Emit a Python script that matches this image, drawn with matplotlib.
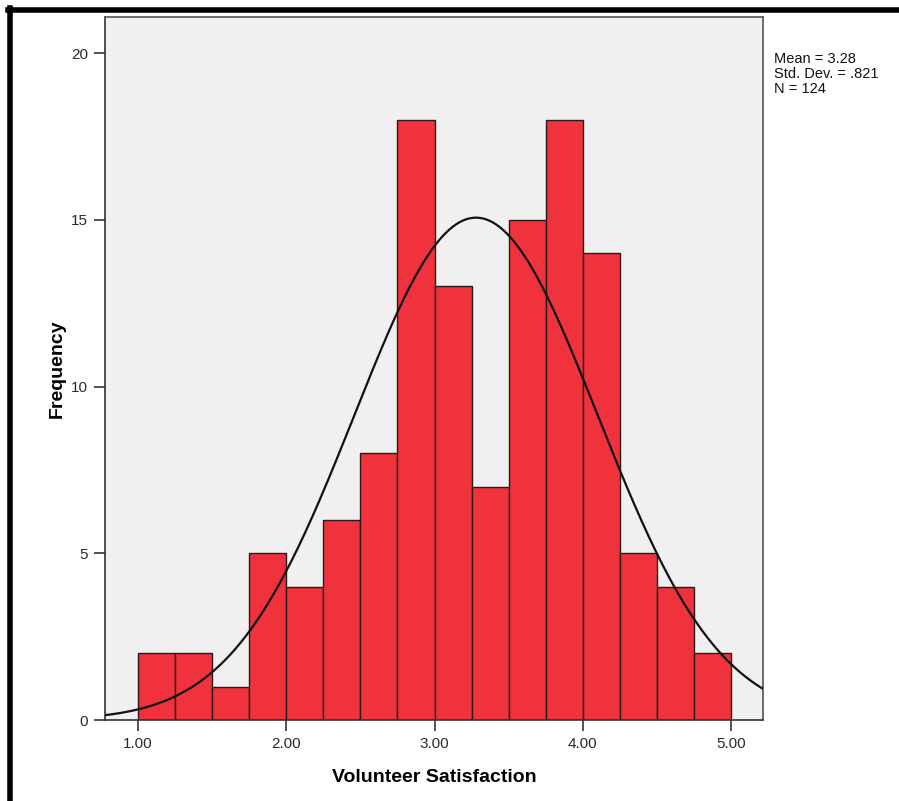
import numpy as np
import matplotlib
matplotlib.use("Agg")
import matplotlib.pyplot as plt
from matplotlib.lines import Line2D

# Data
bin_edges = [1.00, 1.25, 1.50, 1.75, 2.00, 2.25, 2.50, 2.75, 3.00,
             3.25, 3.50, 3.75, 4.00, 4.25, 4.50, 4.75, 5.00]
counts = [2, 2, 1, 5, 4, 6, 8, 18, 13, 7, 15, 18, 14, 5, 4, 2]
mean = 3.28
std = 0.821
n = 124
xticks = [1.0, 2.0, 3.0, 4.0, 5.0]
xtick_labels = ["1.00", "2.00", "3.00", "4.00", "5.00"]
yticks = [0, 5, 10, 15, 20]
stats_text = "Mean = 3.28\nStd. Dev. = .821\nN = 124"

plt.rcParams['font.family'] = ['Liberation Sans', 'DejaVu Sans']

fig = plt.figure(figsize=(8.99, 8.01), dpi=100)
ax = fig.add_axes([105/899, 1 - 720/801, (763 - 105)/899, (720 - 17)/801])
ax.set_facecolor('#F0F0F0')

edges = np.array(bin_edges)
widths = np.diff(edges)
ax.bar(edges[:-1], counts, width=widths, align='edge', color='#EF323C',
       edgecolor='#2a1a1a', linewidth=1.0, zorder=2)

xs = np.linspace(0.7, 5.3, 400)
binw = widths[0]
ys = n * binw * np.exp(-0.5 * ((xs - mean) / std) ** 2) / (std * np.sqrt(2 * np.pi))
ax.plot(xs, ys, color='#111111', linewidth=1.6, zorder=3)

ax.set_xlim(0.777, 5.216)
ax.set_ylim(0, 21.08)
ax.set_xticks(xticks)
ax.set_xticklabels(xtick_labels)
ax.set_yticks(yticks)
ax.tick_params(axis='both', direction='out', length=8, width=1.2, color='#333333',
               labelsize=11, labelcolor='#2a2a2a', pad=4)
for s in ['left', 'bottom']:
    ax.spines[s].set_color('#333333')
    ax.spines[s].set_linewidth(1.2)
for s in ['top', 'right']:
    ax.spines[s].set_color('#555555')
    ax.spines[s].set_linewidth(1.2)

ax.set_xlabel('Volunteer Satisfaction', fontsize=14, fontweight='bold', labelpad=13)
ax.set_ylabel('Frequency', fontsize=14, fontweight='bold', labelpad=4)

fig.text(774/899, 1 - 52/801, stats_text, fontsize=10.5, va='top', ha='left',
         color='#111111', linespacing=1.1)

# outer frame (top and left)
fig.add_artist(Line2D([8/899, 898/899], [1 - 10/801, 1 - 10/801], color='black',
                      linewidth=4, transform=fig.transFigure))
fig.add_artist(Line2D([10/899, 10/899], [0, 1 - 8/801], color='black',
                      linewidth=4, transform=fig.transFigure))

fig.savefig('out.png', dpi=100)
